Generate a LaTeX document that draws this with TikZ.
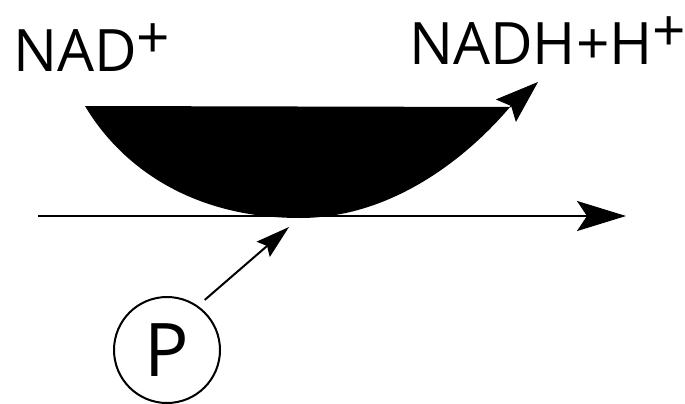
\documentclass[tikz,border=0pt]{standalone}
\usepackage{fontspec}
\setmainfont{Open Sans}
\usetikzlibrary{arrows.meta}
\begin{document}
\begin{tikzpicture}[x=1pt,y=-1pt,
  lbl/.style={inner sep=0pt, anchor=base west, font=\fontsize{58.5}{61}\selectfont},
  pcircle/.style={circle, draw, line width=2pt, minimum size=106pt, inner sep=0pt, font=\fontsize{74}{76}\selectfont},
  mainarrow/.style={line width=2.3pt, -{Stealth[length=49pt,width=30pt,inset=10pt]}},
  curvearrow/.style={line width=1pt, -{Stealth[length=43pt,width=30pt,inset=7pt]}},
  parrow/.style={line width=2pt, -{Stealth[length=34pt,width=20pt,inset=5pt]}}]
\useasboundingbox (0,0) rectangle (685,404);
% labels
\node[lbl] (nad) at (13,71) {NAD\raisebox{13pt}{+}};
\node[lbl] (nadh) at (409,64) {NADH+H\raisebox{13pt}{+}};
% main horizontal arrow
\coordinate (hl) at (38,216);
\coordinate (hr) at (626,216);
\draw[mainarrow] (hl) -- (hr);
% filled bowl
\coordinate (bl) at (85,106);
\coordinate (bb) at (300,218);
\coordinate (br) at (510,107);
\coordinate (btip) at (538,82);
\fill (bl) .. controls (120,165) and (190,218) .. (bb) .. controls (390,218) and (465,160) .. (br) -- cycle;
\draw[curvearrow] (br) -- (btip);
% P circle
\node[pcircle] (p) at (167,350) {P};
\coordinate (tgt) at (289,227);
\draw[parrow, shorten <=9pt] (p.55) -- (tgt);
\end{tikzpicture}
\end{document}
